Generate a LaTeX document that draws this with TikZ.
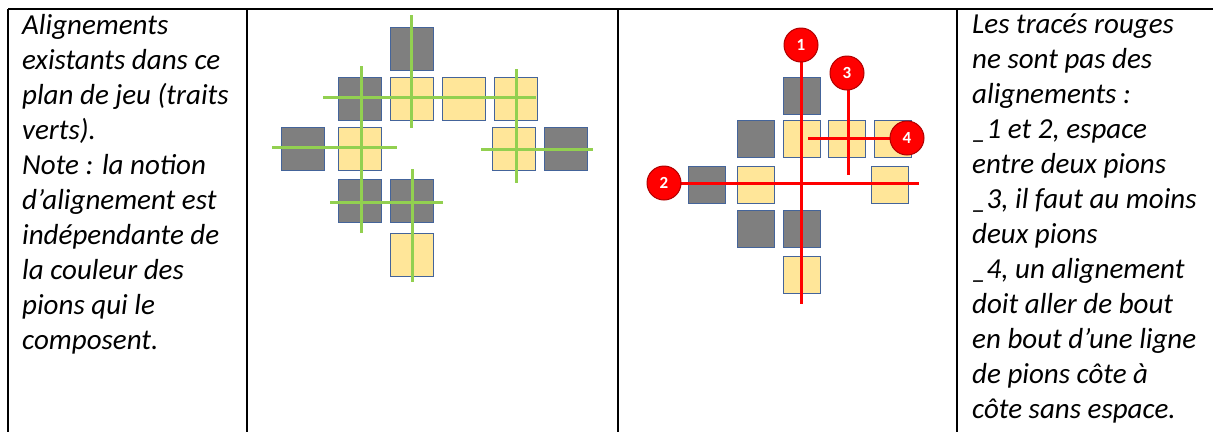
\documentclass[tikz,border=0pt]{standalone}
\usepackage{fontspec}
\setmainfont{Carlito}
\definecolor{pgreen}{HTML}{92D050}
\definecolor{pyellow}{HTML}{FFE699}
\definecolor{pgray}{HTML}{7F7F7F}
\definecolor{pedge}{HTML}{44649A}
\definecolor{pred}{HTML}{FF0000}
\definecolor{predge}{HTML}{B00000}
\begin{document}
\begin{tikzpicture}[x=1pt,y=-1pt,
  grid/.style={line width=2pt, black},
  bigg/.style={draw=pedge, fill=pgray, line width=1.3pt, minimum size=43pt, inner sep=0pt, anchor=north west},
  bigy/.style={bigg, fill=pyellow},
  smg/.style={bigg, minimum size=37pt},
  smy/.style={smg, fill=pyellow},
  gline/.style={pgreen, line width=3pt},
  rline/.style={pred, line width=3pt},
  rc/.style={circle, fill=pred, draw=predge, line width=1pt, minimum size=34pt, inner sep=0pt, text=white, font=\fontsize{17}{17}\selectfont\bfseries},
  txt/.style={anchor=north west, inner sep=0pt, align=left, font=\fontsize{29}{35}\selectfont\itshape}
]
\useasboundingbox (0,0) rectangle (1213,432);
\fill[white] (0,0) rectangle (1213,432);
% table
\draw[grid] (8,9) -- (1213,9);
\foreach \x in {8,247,618,957} \draw[grid] (\x,9) -- (\x,432);
% left text
\node[txt] (tl) at (22,14) {Alignements\\existants dans ce\\plan de jeu (traits\\verts).\\Note : la notion\\d’alignement est\\indépendante de\\la couleur des\\pions qui le\\composent.};
% right text
\node[txt] (tr) at (972,14) {Les tracés rouges\\ne sont pas des\\alignements :\\\_1 et 2, espace\\entre deux pions\\\_3, il faut au moins\\deux pions\\\_4, un alignement\\doit aller de bout\\en bout d’une ligne\\de pions côte à\\côte sans espace.};
% left board
\node[bigg] (a1) at (390,27) {};
\node[bigg] (b1) at (338,77) {};
\node[bigy] (b2) at (390,77) {};
\node[bigy] (b3) at (442,77) {};
\node[bigy] (b4) at (494,77) {};
\node[bigg] (c1) at (281,127) {};
\node[bigy] (c2) at (338,127) {};
\node[bigy] (c3) at (492,127) {};
\node[bigg] (c4) at (544,127) {};
\node[bigg] (d1) at (338,179) {};
\node[bigg] (d2) at (390,179) {};
\node[bigy] (e1) at (390,233) {};
\draw[gline] (411,15) -- (411,128);
\draw[gline] (323,97) -- (536,97);
\draw[gline] (361,66) -- (361,233);
\draw[gline] (516,69) -- (516,183);
\draw[gline] (272,147) -- (397,147);
\draw[gline] (481,149) -- (593,149);
\draw[gline] (330,202) -- (443,202);
\draw[gline] (412,169) -- (412,282);
% right board
\node[smg] (ra1) at (783,77) {};
\node[smg] (rb1) at (737,120) {};
\node[smy] (rb2) at (783,120) {};
\node[smy] (rb3) at (828,120) {};
\node[smy] (rb4) at (874,120) {};
\node[smg] (rc1) at (688,166) {};
\node[smy] (rc2) at (737,166) {};
\node[smy] (rc3) at (871,166) {};
\node[smg] (rd1) at (737,210) {};
\node[smg] (rd2) at (783,210) {};
\node[smy] (re1) at (783,256) {};
\coordinate (e1) at (801,304);
\coordinate (e2) at (919,183);
\coordinate (e3) at (848,175);
\coordinate (e4) at (808,138);
\draw[rline] (801,45) -- (e1);
\draw[rline] (664,183) -- (e2);
\draw[rline] (848,73) -- (e3);
\draw[rline] (e4) -- (907,138);
\node[rc] (n1) at (801,45) {1};
\node[rc] (n2) at (664,183) {2};
\node[rc] (n3) at (847,73) {3};
\node[rc] (n4) at (907,138) {4};
\end{tikzpicture}
\end{document}
